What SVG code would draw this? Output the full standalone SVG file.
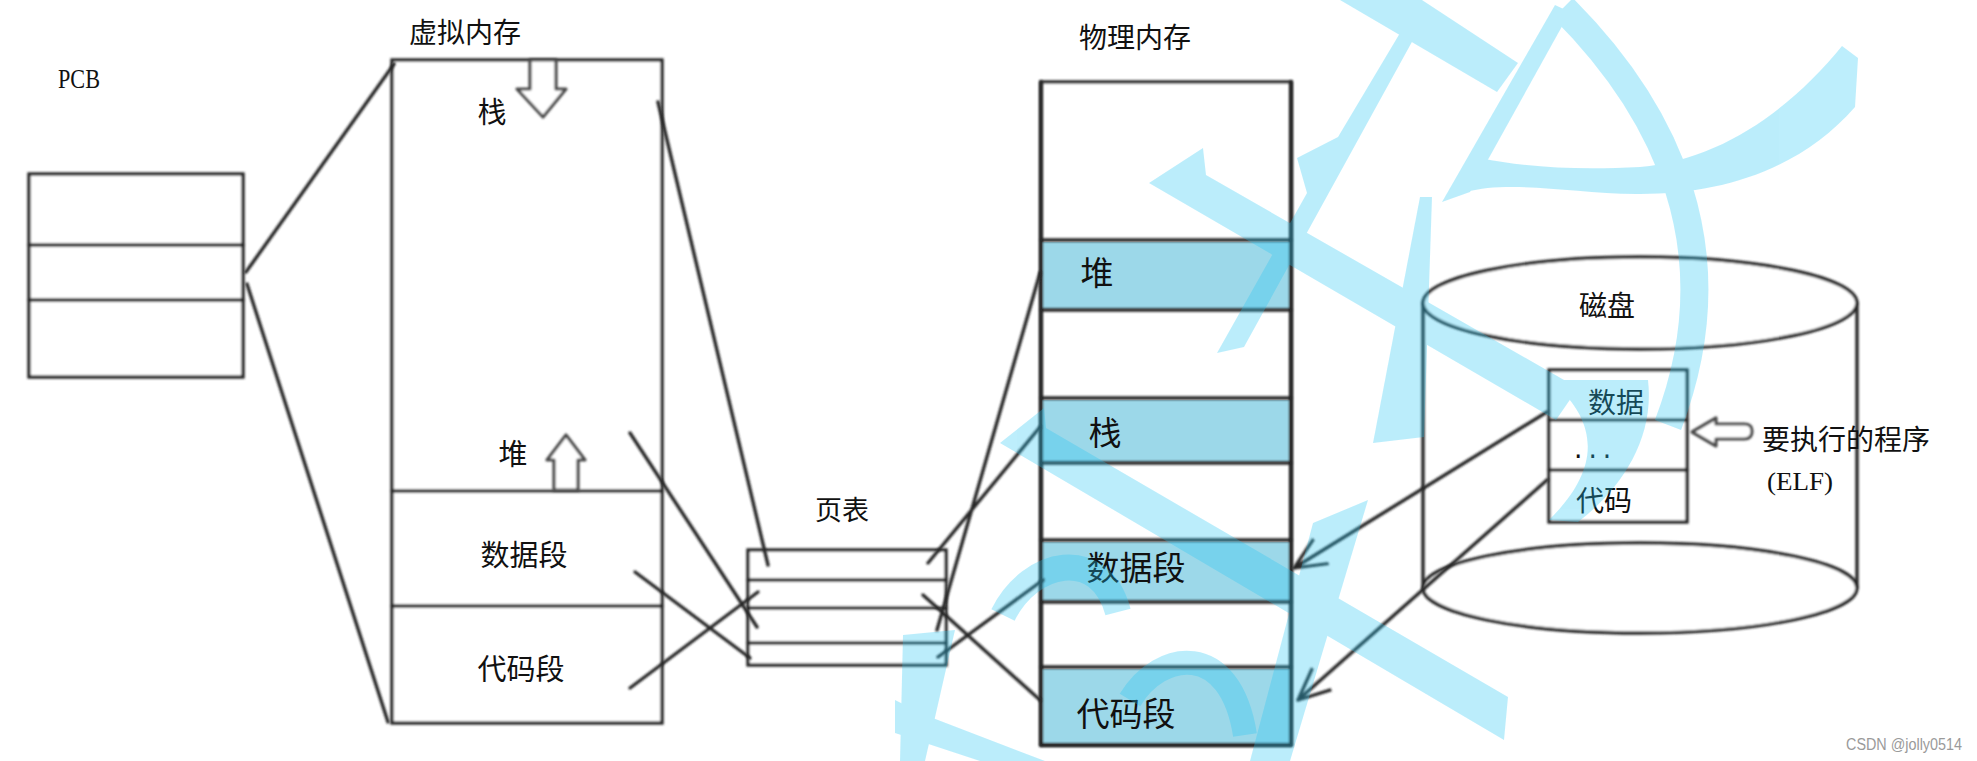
<svg xmlns="http://www.w3.org/2000/svg" width="1977" height="761" viewBox="0 0 1977 761">
<defs>
<style>
.ink{stroke:#262626;stroke-width:3.4;fill:none;stroke-linecap:round}
.box{fill:#fff;stroke:#262626;stroke-width:3.4}
.band{fill:#9cd8e9}
.bar{fill:#fff;stroke:#4a4a4a;stroke-width:3.2;stroke-linejoin:round}
.t{font-family:"Noto Sans CJK SC","Noto Sans CJK JP",sans-serif;fill:#111}
.wm{fill:#23c6f5}
.wms{fill:none;stroke:#23c6f5;stroke-linecap:butt}
</style>
<filter id="soft" filterUnits="userSpaceOnUse" x="0" y="0" width="1977" height="761"><feGaussianBlur stdDeviation="0.8"/></filter>
<filter id="softer" filterUnits="userSpaceOnUse" x="0" y="0" width="1977" height="761"><feGaussianBlur stdDeviation="1.1"/></filter>
<marker id="open" viewBox="0 0 10 10" refX="10" refY="5" markerWidth="32" markerHeight="32" markerUnits="userSpaceOnUse" orient="auto">
<path d="M0,0.5 L10,5 L0,9.5" fill="none" stroke="#262626" stroke-width="1"/>
</marker>
</defs>
<rect x="0" y="0" width="1977" height="761" fill="#fff"/>

<g id="pcb">
<text class="t" x="58" y="88" font-size="28" textLength="42" lengthAdjust="spacingAndGlyphs" style="font-family:'Liberation Serif',serif">PCB</text>
<g filter="url(#soft)">
<rect class="box" x="29" y="174" width="214" height="203"/>
<line class="ink" x1="29" y1="245" x2="243" y2="245"/>
<line class="ink" x1="29" y1="300" x2="243" y2="300"/>
</g>
</g>

<g id="virtual-memory">
<text class="t" x="465" y="43" font-size="28" text-anchor="middle">虚拟内存</text>
<g filter="url(#soft)">
<rect class="box" x="392" y="60" width="270" height="663"/>
<line class="ink" x1="392" y1="491" x2="662" y2="491"/>
<line class="ink" x1="392" y1="606" x2="662" y2="606"/>
</g>
<path class="bar" filter="url(#softer)" d="M530,60 L556,60 L556,89 L566,89 L543,117 L517,89 L530,89 Z"/>
<path class="bar" filter="url(#softer)" d="M566,435 L585,460 L578,460 L578,490 L554,490 L554,460 L547,460 Z"/>
<text class="t" x="492" y="123" font-size="29" text-anchor="middle">栈</text>
<text class="t" x="513" y="465" font-size="29" text-anchor="middle">堆</text>
<text class="t" x="524" y="566" font-size="29" text-anchor="middle">数据段</text>
<text class="t" x="521" y="680" font-size="29" text-anchor="middle">代码段</text>
</g>

<g id="page-table">
<text class="t" x="842" y="520" font-size="27" text-anchor="middle">页表</text>
<g filter="url(#soft)">
<rect class="box" x="748" y="550" width="198" height="115"/>
<line class="ink" x1="748" y1="580" x2="946" y2="580"/>
<line class="ink" x1="748" y1="608" x2="946" y2="608"/>
<line class="ink" x1="748" y1="643" x2="946" y2="643"/>
</g>
</g>

<g id="physical-memory">
<text class="t" x="1135" y="48" font-size="28" text-anchor="middle">物理内存</text>
<rect class="box" x="1041" y="82" width="250" height="663" filter="url(#soft)"/>
<rect class="band" x="1042" y="242" width="248" height="67"/>
<rect class="band" x="1042" y="400" width="248" height="62"/>
<rect class="band" x="1042" y="542" width="248" height="59"/>
<rect class="band" x="1042" y="669" width="248" height="75"/>
<g filter="url(#soft)">
<line class="ink" x1="1041" y1="240" x2="1291" y2="240"/>
<line class="ink" x1="1041" y1="310" x2="1291" y2="310"/>
<line class="ink" x1="1041" y1="398" x2="1291" y2="398"/>
<line class="ink" x1="1041" y1="463" x2="1291" y2="463"/>
<line class="ink" x1="1041" y1="540" x2="1291" y2="540"/>
<line class="ink" x1="1041" y1="602" x2="1291" y2="602"/>
<line class="ink" x1="1041" y1="667" x2="1291" y2="667"/>
<line class="ink" x1="1041" y1="82" x2="1041" y2="745"/>
<line class="ink" x1="1291" y1="82" x2="1291" y2="745"/>
<line class="ink" x1="1041" y1="745" x2="1291" y2="745"/>
</g>
<text class="t" x="1097" y="285" font-size="33" text-anchor="middle">堆</text>
<text class="t" x="1105" y="445" font-size="33" text-anchor="middle">栈</text>
<text class="t" x="1136" y="580" font-size="33" text-anchor="middle">数据段</text>
<text class="t" x="1126" y="726" font-size="33" text-anchor="middle">代码段</text>
</g>

<g id="disk">
<g filter="url(#soft)">
<path class="ink" d="M1423,303 L1423,588 M1857,303 L1857,588"/>
<ellipse cx="1640" cy="588" rx="217" ry="45" fill="#fff" stroke="#262626" stroke-width="3.4"/>
<ellipse cx="1640" cy="303" rx="217" ry="46" fill="#fff" stroke="#262626" stroke-width="3.4"/>
</g>
<text class="t" x="1607" y="316" font-size="28" text-anchor="middle">磁盘</text>
</g>

<g id="elf-file">
<g filter="url(#soft)">
<rect class="box" x="1549" y="370" width="138" height="152"/>
<line class="ink" x1="1549" y1="420" x2="1687" y2="420"/>
<line class="ink" x1="1549" y1="470" x2="1687" y2="470"/>
</g>
<text class="t" x="1616" y="413" font-size="28" text-anchor="middle">数据</text>
<text x="1571" y="458" font-size="24" style="font-family:'Liberation Mono',monospace" fill="#111">...</text>
<text class="t" x="1604" y="511" font-size="28" text-anchor="middle">代码</text>
</g>

<g id="program-label">
<path class="bar" filter="url(#softer)" d="M1692,432 L1716,418 L1716,424 L1744,424 Q1752,424 1752,431 Q1752,439 1744,439 L1716,439 L1716,446 Z"/>
<text class="t" x="1762" y="450" font-size="28">要执行的程序</text>
<text x="1767" y="490" font-size="26" textLength="66" lengthAdjust="spacingAndGlyphs" style="font-family:'Liberation Serif',serif" fill="#111">(ELF)</text>
</g>

<g id="connectors" filter="url(#soft)">
<line class="ink" x1="246" y1="272" x2="394" y2="64"/>
<line class="ink" x1="247" y1="284" x2="388" y2="722"/>
<line class="ink" x1="658" y1="102" x2="768" y2="565"/>
<line class="ink" x1="630" y1="433" x2="757" y2="627"/>
<line class="ink" x1="635" y1="572" x2="750" y2="658"/>
<line class="ink" x1="630" y1="688" x2="758" y2="592"/>
<line class="ink" x1="928" y1="563" x2="1040" y2="427"/>
<line class="ink" x1="937" y1="630" x2="1040" y2="273"/>
<line class="ink" x1="923" y1="595" x2="1040" y2="700"/>
<line class="ink" x1="938" y1="657" x2="1043" y2="580"/>
<line class="ink" x1="1547" y1="412" x2="1294" y2="568" marker-end="url(#open)"/>
<line class="ink" x1="1547" y1="480" x2="1298" y2="700" marker-end="url(#open)"/>
</g>

<g id="watermark" opacity="0.3">
<polygon class="wm" points="1149,183 1203,148 1206,175 1578,388 1556,420"/>
<polygon class="wm" points="1000,443 1044,408 1046,428 1508,697 1504,740"/>
<polygon class="wm" points="1217,353 1307,193 1297,158 1338,137 1400,33 1413,40 1244,347"/>
<polygon class="wm" points="1340,0 1422,0 1518,63 1497,92"/>
<polygon class="wm" points="1442,202 1470,192 1570,12 1555,5"/>
<path class="wms" stroke-width="28" d="M1563,8 C1665,110 1735,250 1668,425"/>
<path class="wm" d="M1842,46 L1858,58 L1855,107 C1800,170 1720,195 1636,194 C1570,193 1510,180 1466,192 L1480,158 C1530,168 1580,170 1640,167 C1720,160 1790,110 1842,46 Z"/>
<polygon class="wm" points="1420,197 1432,197 1424,437 1373,443"/>
<polygon class="wm" points="1313,523 1368,500 1290,761 1250,761"/>
<path class="wm" d="M1550,380 L1648,380 C1655,440 1620,490 1578,522 L1549,520 C1590,480 1610,430 1550,380 Z"/>
<polygon class="wm" points="903,635 955,630 925,761 900,761"/>
<polygon class="wm" points="895,700 925,715 1045,761 980,761 895,733"/>
<path class="wms" stroke-width="24" d="M1130,700 C1160,650 1230,640 1245,735"/>
<path class="wms" stroke-width="26" d="M1003,615 C1030,560 1100,545 1118,612"/>
</g>

<text x="1846" y="750" font-size="16" textLength="116" lengthAdjust="spacingAndGlyphs" style="font-family:'Liberation Sans',sans-serif" fill="#9a9a9a">CSDN @jolly0514</text>
</svg>
